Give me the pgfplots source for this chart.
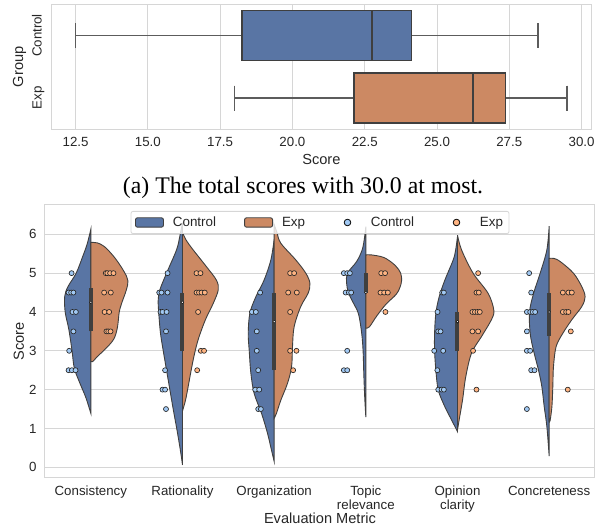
\documentclass[border=0pt]{standalone}
\usepackage{fontspec}
\setmainfont{Liberation Sans}
\newfontfamily\capfont{Liberation Serif}
\usepackage{pgfplots}
\pgfplotsset{compat=1.18}
\usepgfplotslibrary{statistics}
\definecolor{cblue}{HTML}{5975A4}
\definecolor{corange}{HTML}{CC8963}
\definecolor{lblue}{HTML}{A1C9F4}
\definecolor{lorange}{HTML}{FFB482}
\definecolor{edge}{HTML}{3F3F3F}
\definecolor{gridc}{HTML}{D6D6D6}
\definecolor{txt}{HTML}{262626}
\pgfplotsset{
  sbstyle/.style={
    scale only axis,
    axis line style={gridc, line width=1pt},
    tick style={draw=none},
    major tick length=0pt,
    grid style={gridc, line width=1pt},
    tick label style={font=\fontsize{13.3}{14}\selectfont, text=txt},
    label style={font=\fontsize{14.6}{17}\selectfont, text=txt},
    /pgf/number format/assume math mode=true,
  },
  vl/.style={smooth, tension=0.55, fill=cblue, draw=edge, line width=0.9pt, forget plot},
  vr/.style={smooth, tension=0.55, fill=corange, draw=edge, line width=0.9pt, forget plot},
  ib/.style={edge, line width=4pt, forget plot},
  md/.style={only marks, mark=*, mark size=1.3pt, mark options={fill=white, draw=none}, forget plot},
  pc/.style={only marks, mark=*, mark size=2.5pt, mark options={fill=lblue, draw=black!85, line width=0.65pt}, forget plot},
  pe/.style={only marks, mark=*, mark size=2.5pt, mark options={fill=lorange, draw=black!85, line width=0.65pt}, forget plot},
}
\begin{document}
\begin{tikzpicture}[x=1pt,y=1pt]
\useasboundingbox (0,0) rectangle (603,527);
% ---------------- top: box plots
\begin{axis}[sbstyle,
  at={(51pt,397.7pt)}, anchor=south west, width=540.7pt, height=125pt,
  xmin=11.65, xmax=30.35, ymin=-0.5, ymax=1.5, y dir=reverse,
  xtick={12.5,15,17.5,20,22.5,25,27.5,30},
  xticklabel={\pgfmathprintnumber[fixed,fixed zerofill,precision=1]{\tick}},
  xticklabel style={anchor=north, inner sep=0pt, yshift=-7.4pt},
  xmajorgrids,
  ytick={0,1}, yticklabels={Control,Exp},
  yticklabel style={xshift=-9.3pt, rotate=90, anchor=base, inner sep=0pt},
  xlabel={Score}, ylabel={Group},
  xlabel style={at={(axis description cs:0.5,0)}, anchor=base, yshift=-35.7pt},
  ylabel style={at={(axis description cs:-0.0514,0.5)}, anchor=base, rotate=0},
  /pgfplots/boxplot/every whisker/.style={draw=edge!85, line width=1.5pt},
  /pgfplots/boxplot/every median/.style={draw=edge, line width=1.4pt},
  /pgfplots/boxplot/every box/.style={draw=edge, line width=1.4pt},
]
\addplot[boxplot prepared={lower whisker=12.5, lower quartile=18.25, median=22.75,
  upper quartile=24.125, upper whisker=28.5, draw position=0, box extend=0.8, whisker extend=0.4},
  fill=cblue, draw=edge, line width=1.4pt] coordinates {};
\addplot[boxplot prepared={lower whisker=18.0, lower quartile=22.125, median=26.25,
  upper quartile=27.375, upper whisker=29.5, draw position=1, box extend=0.8, whisker extend=0.4},
  fill=corange, draw=edge, line width=1.4pt] coordinates {};
\end{axis}
% ---------------- bottom: split violins
\begin{axis}[sbstyle,
  at={(45pt,49.7pt)}, anchor=south west, width=550pt, height=272.3pt,
  xmin=-0.5, xmax=5.5, ymin=-0.2575, ymax=6.755,
  ymajorgrids, ytick={0,1,2,3,4,5,6},
  yticklabel style={anchor=east, inner sep=0pt, xshift=-8.3pt},
  xtick={0,1,2,3,4,5},
  xticklabels={Consistency,Rationality,Organization,{Topic\\relevance},{Opinion\\clarity},Concreteness},
  xticklabel style={align=center, anchor=north, inner sep=0pt, yshift=-8.7pt},
  xlabel={Evaluation Metric}, ylabel={Score},
  xlabel style={at={(axis description cs:0.5,0)}, anchor=base, yshift=-46.7pt},
  ylabel style={at={(axis description cs:-0.0382,0.5)}, anchor=base, rotate=0},
  legend columns=4,
  legend style={at={(0.5,0.978)}, anchor=north, draw=gridc, line width=0.8pt,
    rounded corners=2pt, fill=white, fill opacity=0.8, draw opacity=1, text opacity=1,
    font=\fontsize{13.4}{15}\selectfont, text=txt, inner xsep=4pt, inner ysep=3.5pt,
    /tikz/every odd column/.append style={column sep=7pt},
    /tikz/every even column/.append style={column sep=26pt}},
]
\addlegendimage{legend image code/.code={\path[fill=cblue, draw=edge, fill opacity=1, line width=0.9pt] (0pt,-4.7pt) rectangle (28pt,4.7pt);}}
\addlegendimage{legend image code/.code={\path[fill=corange, draw=edge, fill opacity=1, line width=0.9pt] (0pt,-4.7pt) rectangle (28pt,4.7pt);}}
\addlegendimage{legend image code/.code={\path (0pt,0pt) (28pt,0pt); \path[fill=lblue, fill opacity=1] (14pt,0pt) circle (3.3pt);}}
\addlegendimage{legend image code/.code={\path (0pt,0pt) (28pt,0pt); \path[fill=lorange, fill opacity=1] (14pt,0pt) circle (3.3pt);}}
\legend{Control,Exp,Control,Exp}
% Consistency
\addplot[vl] coordinates {(0,6.13) (-0.04,5.75) (-0.09,5.42) (-0.16,5.0) (-0.25,4.65) (-0.285,4.4) (-0.28,4.0) (-0.24,3.55) (-0.205,3.0) (-0.18,2.55) (-0.12,2.17) (-0.055,1.8) (0,1.39)} -- cycle;
\addplot[vr] coordinates {(0,5.79) (0.07,5.78) (0.15,5.68) (0.26,5.4) (0.36,5.05) (0.405,4.8) (0.385,4.55) (0.34,4.25) (0.31,4.0) (0.29,3.6) (0.25,3.3) (0.16,3.05) (0.07,2.85) (0.02,2.72) (0,2.72)} -- cycle;
% Rationality
\addplot[vl] coordinates {(1,6.3) (0.97,5.94) (0.935,5.6) (0.826,5.0) (0.753,4.57) (0.735,4.31) (0.74,4.0) (0.76,3.45) (0.79,3.0) (0.826,2.5) (0.862,2.0) (0.9,1.48) (0.946,0.88) (0.982,0.36) (1,0.06)} -- cycle;
\addplot[vr] coordinates {(1,6.05) (1.04,5.85) (1.116,5.6) (1.26,5.17) (1.37,4.82) (1.39,4.57) (1.335,4.22) (1.25,3.8) (1.17,3.28) (1.116,2.76) (1.062,2.08) (1.033,1.73) (1,1.45)} -- cycle;
% Organization
\addplot[vl] coordinates {(2,5.87) (1.964,5.34) (1.89,4.82) (1.8,4.39) (1.735,3.97) (1.717,3.45) (1.728,3.0) (1.746,2.42) (1.782,1.9) (1.862,1.39) (1.927,0.88) (1.97,0.45) (2,0.15)} -- cycle;
\addplot[vr] coordinates {(2,6.25) (2.03,6.05) (2.073,5.77) (2.236,5.34) (2.345,5.0) (2.39,4.74) (2.37,4.48) (2.29,4.14) (2.218,3.62) (2.2,3.11) (2.19,2.59) (2.145,2.16) (2.073,1.73) (2.025,1.39) (2,1.26)} -- cycle;
% Topic relevance
\addplot[vl] coordinates {(3,6.2) (2.985,5.9) (2.96,5.6) (2.9,5.3) (2.8,5.0) (2.79,4.75) (2.81,4.5) (2.86,4.25) (2.92,3.95) (2.955,3.45) (2.97,3.0) (2.978,2.4) (2.988,1.8) (3,1.29)} -- cycle;
\addplot[vr] coordinates {(3,5.47) (3.06,5.47) (3.2,5.4) (3.32,5.2) (3.38,5.0) (3.39,4.8) (3.37,4.62) (3.33,4.45) (3.22,4.2) (3.12,3.9) (3.04,3.62) (3,3.58)} -- cycle;
% Opinion clarity
\addplot[vl] coordinates {(4,5.94) (3.98,5.6) (3.953,5.34) (3.862,4.82) (3.8,4.39) (3.764,3.97) (3.75,3.45) (3.75,3.0) (3.764,2.5) (3.79,1.99) (3.862,1.56) (3.935,1.22) (4,0.92)} -- cycle;
\addplot[vr] coordinates {(4,5.98) (4.044,5.6) (4.17,5.0) (4.334,4.48) (4.396,4.05) (4.37,3.8) (4.26,3.36) (4.153,2.94) (4.09,2.33) (4.055,1.73) (4.018,1.22) (4,0.96)} -- cycle;
% Concreteness
\addplot[vl] coordinates {(5,6.21) (4.975,5.6) (4.902,5.0) (4.83,4.48) (4.786,4.0) (4.793,3.45) (4.83,3.0) (4.884,2.5) (4.92,2.08) (4.946,1.56) (4.975,1.05) (5,0.29)} -- cycle;
\addplot[vr] coordinates {(5,5.38) (5.05,5.38) (5.12,5.3) (5.265,5.0) (5.356,4.65) (5.392,4.39) (5.356,4.14) (5.247,3.8) (5.149,3.45) (5.076,3.11) (5.047,2.59) (5.04,2.08) (5.03,1.56) (5.01,1.2) (5,1.18)} -- cycle;
% inner boxes (quartiles) and medians
\addplot[ib] coordinates {(0,3.5) (0,4.625)};
\addplot[ib] coordinates {(1,3.0) (1,4.5)};
\addplot[ib] coordinates {(2,2.5) (2,4.5)};
\addplot[ib] coordinates {(3,4.5) (3,5.0)};
\addplot[ib] coordinates {(4,3.0) (4,4.0)};
\addplot[ib] coordinates {(5,3.375) (5,4.5)};
\addplot[md] coordinates {(0,4.25) (1,4.25) (2,3.75) (3,4.5) (4,3.75) (5,4.0)};
% strip points: Control
\addplot[pc] coordinates {
 (-0.21,5) (-0.243,4.5) (-0.215,4.5) (-0.19,4.5) (-0.2,4) (-0.163,4) (-0.19,3.5) (-0.236,3) (-0.243,2.5) (-0.207,2.5) (-0.167,2.5)
 (0.837,5) (0.746,4.5) (0.771,4.5) (0.837,4.5) (0.76,4) (0.782,4) (0.826,4) (0.82,3.5) (0.81,2.5) (0.782,2) (0.81,2) (0.82,1.5)
 (1.847,4.5) (1.757,4) (1.8,4) (1.81,3.5) (1.81,3) (1.826,2.5) (1.793,2) (1.837,2) (1.826,1.5) (1.855,1.5)
 (2.76,5) (2.797,5) (2.826,5) (2.78,4.5) (2.815,4.5) (2.84,4.5) (2.797,3) (2.76,2.5) (2.797,2.5)
 (3.833,4.5) (3.851,4.5) (3.782,4) (3.79,3.5) (3.815,3.5) (3.746,3) (3.844,3) (3.78,2.5) (3.79,2) (3.826,2) (3.851,2)
 (4.782,5) (4.804,4.5) (4.757,4) (4.793,4) (4.82,4) (4.847,4) (4.757,3.5) (4.757,3) (4.793,3) (4.804,2.5) (4.84,2.5) (4.757,1.5)};
% strip points: Exp
\addplot[pe] coordinates {
 (0.163,5) (0.18,5) (0.21,5) (0.247,5) (0.145,4.5) (0.218,4.5) (0.15,4) (0.2,4) (0.17,3.5) (0.19,3.5) (0.215,3.5)
 (1.153,5) (1.196,5) (1.153,4.5) (1.18,4.5) (1.207,4.5) (1.243,4.5) (1.17,4) (1.2,3) (1.235,3) (1.16,2.5)
 (2.174,5) (2.218,5) (2.153,4.5) (2.247,4.5) (2.174,4) (2.174,3) (2.243,3) (2.207,2.5)
 (3.168,5) (3.21,5) (3.16,4.5) (3.2,4.5) (3.24,4.5) (3.214,4)
 (4.225,5) (4.207,4.5) (4.232,4.5) (4.163,4) (4.19,4) (4.218,4) (4.243,4) (4.163,3.5) (4.225,3.5) (4.17,3) (4.207,2)
 (5.149,4.5) (5.21,4.5) (5.247,4.5) (5.149,4) (5.185,4) (5.21,4) (5.236,3.5) (5.203,2)};
\end{axis}
\node[font=\capfont\fontsize{23.8}{28}\selectfont, anchor=base, text=black] at (303,333) {(a) The total scores with 30.0 at most.};
\end{tikzpicture}
\end{document}
